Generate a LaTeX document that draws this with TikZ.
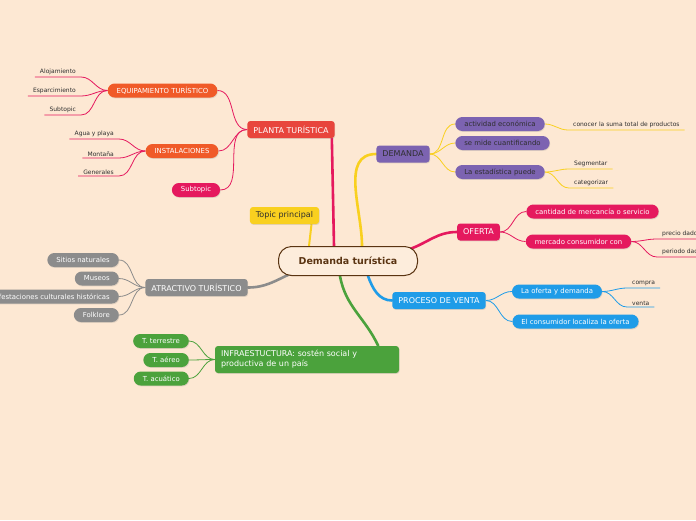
\documentclass[tikz,border=0pt]{standalone}
\usepackage{fontspec}
\setmainfont{DejaVu Sans}
\usetikzlibrary{positioning,shadows,backgrounds}
\definecolor{paper}{HTML}{FDE8D3}
\definecolor{ink}{HTML}{2E2E2E}
\definecolor{brownink}{HTML}{5A3412}
\definecolor{planta}{HTML}{E8453C}
\definecolor{equip}{HTML}{F05A28}
\definecolor{rose}{HTML}{E5195E}
\definecolor{sun}{HTML}{F9D01F}
\definecolor{violet}{HTML}{7C63B1}
\definecolor{sky}{HTML}{1F9CE8}
\definecolor{slate}{HTML}{8C8C8C}
\definecolor{leaf}{HTML}{4BA23C}
\tikzset{
  every node/.style={text=ink},
  softshadow/.style={drop shadow={opacity=.22,shadow xshift=.6pt,shadow yshift=-.9pt}},
  topic/.style={rounded corners=3pt,minimum height=17pt,inner xsep=6pt,inner ysep=0pt,font=\fontsize{8}{10}\selectfont,text=white,softshadow},
  pill/.style={rounded corners=7pt,minimum height=14pt,inner xsep=9pt,inner ysep=0pt,font=\fontsize{6.9}{8}\selectfont,text=white,softshadow},
  leaftxt/.style={inner xsep=5pt,inner ysep=1.6pt,font=\fontsize{6}{7}\selectfont,text=ink},
  twig/.style={line width=.8pt},
  trunk/.style={line width=2.6pt,line cap=round},
}
\begin{document}
\begin{tikzpicture}[x=1pt,y=1pt]
  \useasboundingbox (0,0) rectangle (696,-520);

  \node[draw=brownink,line width=1pt,fill=paper!80!white,rounded corners=13pt,minimum width=139pt,minimum height=29pt,
        font=\bfseries\fontsize{9.5}{11}\selectfont,text=brownink] (root) at (348,-261) {Demanda turística};

  % main topics
  \node[topic,fill=planta] (planta) at (291,-129.5) {PLANTA TURÍSTICA};
  \node[topic,fill=sun,text=ink] (topicp) at (284.5,-215.5) {Topic principal};
  \node[topic,fill=violet,text=ink] (demanda) at (403,-154) {DEMANDA};
  \node[topic,fill=rose] (oferta) at (478.5,-232) {OFERTA};
  \node[topic,fill=sky] (proceso) at (439,-300.5) {PROCESO DE VENTA};
  \node[topic,fill=slate] (atractivo) at (196.5,-287.5) {ATRACTIVO TURÍSTICO};
  \node[topic,fill=leaf,align=left,minimum height=27pt,text width=172pt] (infra) at (307,-359.5)
    {INFRAESTUCTURA: sostén social y\\productiva de un país};

  % planta
  \node[pill,fill=equip] (equip) at (162.5,-90.5) {EQUIPAMIENTO TURÍSTICO};
  \node[pill,fill=equip] (inst) at (182,-151) {INSTALACIONES};
  \node[pill,fill=rose] (subt) at (196,-190) {Subtopic};
  \node[leaftxt,anchor=south east] (aloj) at (81,-77) {Alojamiento};
  \node[leaftxt,anchor=south east] (espar) at (81,-96) {Esparcimiento};
  \node[leaftxt,anchor=south east] (subtl) at (81,-115) {Subtopic};
  \node[leaftxt,anchor=south east] (agua) at (119,-139) {Agua y playa};
  \node[leaftxt,anchor=south east] (mont) at (119,-158) {Montaña};
  \node[leaftxt,anchor=south east] (gen) at (119,-176) {Generales};

  % demanda
  \node[pill,fill=violet,text=ink] (act) at (500,-124) {actividad económica};
  \node[pill,fill=violet,text=ink] (mide) at (502.5,-143) {se mide cuantificando};
  \node[pill,fill=violet,text=ink] (esta) at (500,-172) {La estadística puede};
  \node[leaftxt,anchor=south west] (conocer) at (568,-130) {conocer la suma total de productos};
  \node[leaftxt,anchor=south west] (segm) at (569,-169) {Segmentar};
  \node[leaftxt,anchor=south west] (categ) at (569,-188) {categorizar};

  % oferta
  \node[pill,fill=rose] (cant) at (592.5,-211.5) {cantidad de mercancía o servicio};
  \node[pill,fill=rose] (merc) at (578.5,-241.5) {mercado consumidor con};
  \node[leaftxt,anchor=south west] (precio) at (657,-239) {precio dado};
  \node[leaftxt,anchor=south west] (periodo) at (657,-257) {periodo dado};

  % proceso de venta
  \node[pill,fill=sky] (ofdem) at (557,-291.5) {La oferta y demanda};
  \node[pill,fill=sky] (consum) at (575.5,-321.5) {El consumidor localiza la oferta};
  \node[leaftxt,anchor=south west] (compra) at (627,-288) {compra};
  \node[leaftxt,anchor=south west] (venta) at (627,-307) {venta};

  % atractivo
  \node[pill,fill=slate,anchor=east] (sitios) at (119,-260) {Sitios naturales};
  \node[pill,fill=slate,anchor=east] (museos) at (119,-278.5) {Museos};
  \node[pill,fill=slate,anchor=east] (manif) at (119,-296.5) {Manifestaciones culturales históricas};
  \node[pill,fill=slate,anchor=east] (folk) at (119,-315) {Folklore};

  % infraestructura
  \node[pill,fill=leaf,anchor=east] (terr) at (189,-341) {T. terrestre};
  \node[pill,fill=leaf,anchor=east] (aereo) at (189,-360) {T. aéreo};
  \node[pill,fill=leaf,anchor=east] (acuat) at (189,-378.5) {T. acuático};

  \begin{scope}[on background layer]
    \fill[paper] (0,0) rectangle (696,-520);
    \draw[trunk,rose] ([xshift=-14pt]root.north) -- ([xshift=-3pt]planta.south east);
    \draw[trunk,sun] ([xshift=14pt]root.north) to[out=90,in=180] (demanda.west);
    \draw[trunk,sun,line width=2pt] ([xshift=-39pt]root.north) -- ([xshift=27pt]topicp.south);
    \draw[trunk,rose] ([xshift=-8pt,yshift=-3pt]root.north east) to[out=20,in=180] (oferta.west);
    \draw[trunk,sky] ([xshift=20pt]root.south) to[out=-70,in=180] (proceso.west);
    \draw[trunk,slate] ([xshift=-58pt,yshift=2pt]root.south) to[out=205,in=0] (atractivo.east);
    \draw[trunk,leaf] ([xshift=-8pt]root.south) to[out=-80,in=115] ([xshift=-21pt]infra.north east);

    \foreach \k in {equip,inst,subt}
      \draw[twig,rose] (planta.west) to[out=180,in=0] (\k.east);
    \foreach \k in {aloj,espar,subtl}
      \draw[twig,rose] (equip.west) to[out=180,in=0] (\k.south east) -- (\k.south west);
    \foreach \k in {agua,mont,gen}
      \draw[twig,rose] (inst.west) to[out=180,in=0] (\k.south east) -- (\k.south west);
    \foreach \k in {act,mide,esta}
      \draw[twig,sun] (demanda.east) to[out=0,in=180] (\k.west);
    \draw[twig,sun] (act.east) to[out=0,in=180] (conocer.south west) -- (conocer.south east);
    \foreach \k in {segm,categ}
      \draw[twig,sun] (esta.east) to[out=0,in=180] (\k.south west) -- (\k.south east);
    \foreach \k in {cant,merc}
      \draw[twig,rose] (oferta.east) to[out=0,in=180] (\k.west);
    \foreach \k in {precio,periodo}
      \draw[twig,rose] (merc.east) to[out=0,in=180] (\k.south west) -- (\k.south east);
    \foreach \k in {ofdem,consum}
      \draw[twig,sky] (proceso.east) to[out=0,in=180] (\k.west);
    \foreach \k in {compra,venta}
      \draw[twig,sky] (ofdem.east) to[out=0,in=180] (\k.south west) -- (\k.south east);
    \foreach \k in {sitios,museos,manif,folk}
      \draw[twig,slate] (atractivo.west) to[out=180,in=0] (\k.east);
    \foreach \k in {terr,aereo,acuat}
      \draw[twig,leaf] (infra.west) to[out=180,in=0] (\k.east);
  \end{scope}
\end{tikzpicture}
\end{document}
